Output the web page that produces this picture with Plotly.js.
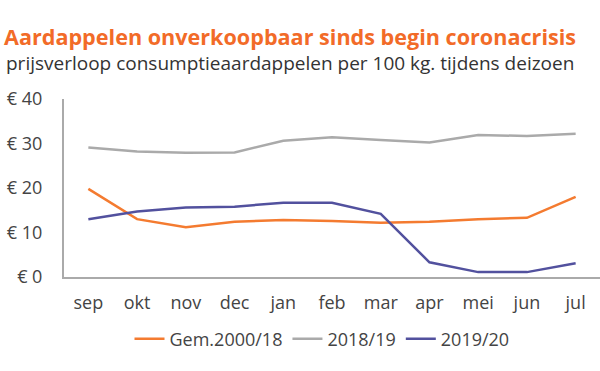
<!DOCTYPE html>
<html><head><meta charset="utf-8">
<script src="https://cdn.plot.ly/plotly-3.0.1.min.js"></script>
<style>html,body{margin:0;padding:0;background:#fff}#chart{width:600px;height:371px}</style>
</head><body><div id="chart"></div>
<script>
const months = ["sep","okt","nov","dec","jan","feb","mar","apr","mei","jun","jul"];
const gem200018 = [19.8,13.0,11.2,12.4,12.8,12.6,12.2,12.4,13.0,13.3,18.0];
const s201819 = [29.1,28.2,27.9,28.0,30.6,31.4,30.8,30.2,31.9,31.7,32.2];
const s201920 = [13.0,14.7,15.6,15.8,16.7,16.7,14.2,3.3,1.1,1.1,3.1];
const yTickVals = [0,10,20,30,40];
const yTickText = ["€ 0","€ 10","€ 20","€ 30","€ 40"];
const titleText = "Aardappelen onverkoopbaar sinds begin coronacrisis";
const subtitleText = "prijsverloop consumptieaardappelen per 100 kg. tijdens deizoen";

const F = "Open Sans, sans-serif";
const traces = [
  {x: months, y: gem200018, name: "Gem.2000/18", type: "scatter", mode: "lines", line: {color: "#F47B30", width: 2.5}},
  {x: months, y: s201819, name: "2018/19", type: "scatter", mode: "lines", line: {color: "#AAAAAA", width: 2.5}},
  {x: months, y: s201920, name: "2019/20", type: "scatter", mode: "lines", line: {color: "#52519E", width: 2.5}}
];
const layout = {
  width: 600, height: 371,
  margin: {l: 64, r: 0, t: 99, b: 94},
  paper_bgcolor: "#fff", plot_bgcolor: "#fff",
  font: {family: F, color: "#444", size: 18},
  title: {text: "<b>" + titleText + "</b>", xref: "container", yref: "container", x: 4/600, xanchor: "left", y: 1 - 37/371, yanchor: "middle", font: {family: F, size: 21.6, color: "#F26B28"}},
  annotations: [{text: subtitleText, xref: "paper", yref: "paper", x: (4-64)/536, xanchor: "left", y: 1 + (99-63)/178, yanchor: "middle", showarrow: false, font: {family: F, size: 19, color: "#333"}}],
  xaxis: {type: "category", range: [-0.5, 10.5], showline: true, linecolor: "#AAAAAA", linewidth: 2, showgrid: false, zeroline: false, ticks: "", ticklabelstandoff: 8, tickfont: {family: F, size: 18, color: "#444"}, fixedrange: true},
  yaxis: {range: [0, 40], tickvals: yTickVals, ticktext: yTickText, showline: true, linecolor: "#AAAAAA", linewidth: 2, showgrid: false, zeroline: false, ticks: "", ticklabelstandoff: 16, tickfont: {family: F, size: 18, color: "#444"}, fixedrange: true},
  showlegend: true,
  legend: {orientation: "h", x: (322-64)/536, xanchor: "center", y: -(339-277)/178, yanchor: "middle", font: {family: F, size: 18, color: "#444"}, itemwidth: 30, tracegroupgap: 0},
};
Plotly.newPlot("chart", traces, layout, {displayModeBar: false, staticPlot: true});
</script></body></html>
